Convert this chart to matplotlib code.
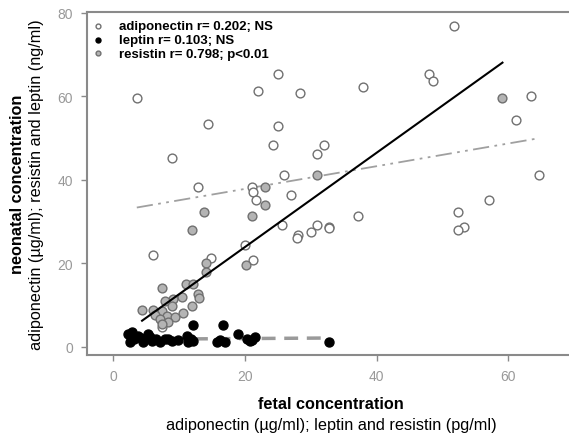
import numpy as np
import matplotlib.pyplot as plt

plt.rcParams["font.family"] = ["Liberation Sans", "DejaVu Sans"]

# fetal (x) vs neonatal (y) concentrations
adipo_x = [3.6, 25.0, 22.0, 28.3, 14.4, 25.0, 24.3, 32.0, 31.0, 9.0, 26.0, 12.9,
           21.1, 21.3, 21.7, 27.0, 25.7, 30.9, 32.8, 32.7, 28.1, 27.9, 30.1, 20.0,
           21.3, 6.1, 14.9, 7.4, 51.8, 38.0, 48.0, 48.6, 63.4, 61.1, 64.6, 57.0,
           52.3, 53.3, 52.3, 37.1]
adipo_y = [59.6, 65.4, 61.2, 60.8, 53.3, 52.9, 48.3, 48.3, 46.2, 45.2, 41.1, 38.2,
           38.2, 37.0, 35.1, 36.3, 29.1, 29.1, 28.8, 28.4, 26.7, 26.0, 27.4, 24.3,
           20.9, 21.9, 21.2, 4.8, 76.9, 62.2, 65.4, 63.7, 60.1, 54.3, 41.1, 35.1,
           32.2, 28.8, 28.1, 31.3]

leptin_x = [2.3, 2.6, 3.8, 4.6, 5.3, 5.9, 7.1, 7.9, 9.0, 9.9, 11.2, 11.4, 15.7,
            17.0, 20.4, 21.1, 12.2, 16.7, 19.0, 32.7, 2.8, 3.2, 4.2, 5.6, 6.5,
            8.4, 11.9, 12.2, 16.3, 20.8, 21.5]
leptin_y = [3.1, 1.2, 2.6, 1.2, 3.1, 1.4, 1.2, 1.9, 1.4, 1.7, 2.6, 1.2, 1.2,
            1.2, 1.9, 1.7, 5.3, 5.3, 3.1, 1.2, 3.6, 1.9, 2.2, 2.3, 1.8,
            2.0, 2.0, 1.5, 1.6, 1.4, 2.3]

resistin_x = [23.0, 23.0, 13.8, 21.1, 12.0, 31.0, 59.0, 14.1, 14.1, 20.2, 11.1, 12.1,
              7.5, 12.9, 13.1, 10.5, 9.1, 7.9, 12.0, 9.0, 4.4, 6.1, 7.4, 10.6,
              6.4, 8.2, 9.4, 7.1, 8.4, 7.4]
resistin_y = [38.2, 34.1, 32.2, 31.3, 28.1, 41.1, 59.6, 20.2, 18.0, 19.7, 15.1, 15.1,
              14.2, 12.7, 11.8, 12.0, 11.5, 11.1, 9.9, 9.9, 8.9, 8.9, 8.5, 8.2,
              7.7, 7.5, 7.2, 6.7, 6.0, 5.5]

# regression lines: (slope, intercept, x start, x end)
adipo_fit = [0.272, 32.4, 3.6, 64.6]
leptin_fit = [0.01, 1.8, 2.0, 32.7]
resistin_fit = [1.13, 1.3, 4.4, 59.1]

labels = ["adiponectin r= 0.202; NS",
          "leptin r= 0.103; NS",
          "resistin r= 0.798; p<0.01"]

fig = plt.figure(figsize=(5.69, 4.35), dpi=100)
ax = fig.add_axes([0.153, 0.182, 0.847, 0.788])

ax.scatter(adipo_x, adipo_y, s=40, facecolor="white", edgecolor="#707070",
           linewidth=1.0, zorder=3, label=labels[0])
ax.scatter(leptin_x, leptin_y, s=42, facecolor="black", edgecolor="black",
           linewidth=1.0, zorder=4, label=labels[1])
ax.scatter(resistin_x, resistin_y, s=40, facecolor="#b4b4b4", edgecolor="#707070",
           linewidth=1.0, zorder=3, label=labels[2])


def fit_line(fit):
    slope, icpt, x0, x1 = fit
    xs = np.array([x0, x1])
    return xs, slope * xs + icpt


xs, ys = fit_line(adipo_fit)
ax.plot(xs, ys, color="#a0a0a0", lw=1.3, dashes=(9, 3, 1.5, 3, 1.5, 3), zorder=2)
xs, ys = fit_line(leptin_fit)
ax.plot(xs, ys, color="#9a9a9a", lw=2.5, dashes=(4, 2.5), zorder=2)
xs, ys = fit_line(resistin_fit)
ax.plot(xs, ys, color="black", lw=1.5, zorder=5)

ax.set_xlim(-3.95, 69.2)
ax.set_ylim(-1.9, 80.2)
ax.set_xticks([0, 20, 40, 60])
ax.set_yticks([0, 20, 40, 60, 80])

for side in ["left", "bottom", "top"]:
    ax.spines[side].set_color("#8a8a8a")
    ax.spines[side].set_linewidth(1.5)
ax.spines["right"].set_visible(False)
ax.tick_params(colors="#8a8a8a", labelcolor="#999999", labelsize=10,
               length=4, width=1, direction="out", pad=6)

leg = ax.legend(loc="upper left", frameon=False, handletextpad=1.3,
                borderaxespad=0.1, labelspacing=0.12, markerscale=0.55,
                borderpad=0.5, handlelength=0.5,
                prop={"weight": "bold", "size": 9.5})

fig.text(0.030, 0.576, "neonatal concentration", rotation=90, ha="center",
         va="center", fontsize=11.7, fontweight="bold")
fig.text(0.065, 0.576, "adiponectin (\u00b5g/ml); resistin and leptin (ng/ml)",
         rotation=90, ha="center", va="center", fontsize=11.7)
fig.text(0.582, 0.069, "fetal concentration", ha="center", va="center",
         fontsize=11.7, fontweight="bold")
fig.text(0.582, 0.021, "adiponectin (\u00b5g/ml); leptin and resistin (pg/ml)",
         ha="center", va="center", fontsize=11.7)

fig.savefig("out.png", dpi=100)
